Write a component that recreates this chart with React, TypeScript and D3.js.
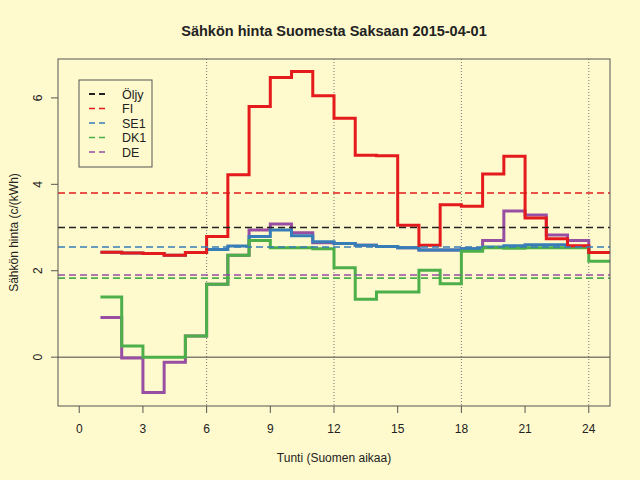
import * as d3 from "d3";

const WIDTH = 640;
const HEIGHT = 480;

const BG = "#fffacd";

const PLOT = { left: 58, right: 610, top: 59, bottom: 406 };

const TITLE = "Sähkön hinta Suomesta Saksaan 2015-04-01";
const X_LABEL = "Tunti (Suomen aikaa)";
const Y_LABEL = "Sähkön hinta (c/(kWh)";

// hours 1..24, step after each hour
const hours = d3.range(1, 25);
const xTicks = [0, 3, 6, 9, 12, 15, 18, 21, 24];
const yTicks = [0, 2, 4, 6];
const vLines = [6, 12, 18, 24];

const fi = [2.43, 2.41, 2.4, 2.36, 2.42, 2.79, 4.22, 5.8, 6.47, 6.61, 6.05, 5.53, 4.67, 4.66, 3.05, 2.59, 3.53, 3.49, 4.24, 4.65, 3.22, 2.74, 2.58, 2.42];
const se1 = [2.43, 2.41, 2.4, 2.36, 2.42, 2.49, 2.57, 2.79, 2.94, 2.81, 2.67, 2.63, 2.59, 2.56, 2.53, 2.48, 2.48, 2.51, 2.55, 2.58, 2.6, 2.6, 2.56, 2.42];
const dk1 = [1.39, 0.26, 0.0, 0.0, 0.49, 1.69, 2.36, 2.7, 2.53, 2.53, 2.51, 2.07, 1.34, 1.51, 1.51, 2.01, 1.7, 2.45, 2.53, 2.52, 2.53, 2.53, 2.53, 2.22];
const de = [0.92, -0.02, -0.82, -0.12, 0.49, 1.69, 2.36, 2.94, 3.08, 2.88, 2.65, 2.63, 2.59, 2.56, 2.53, 2.48, 2.48, 2.51, 2.7, 3.38, 3.29, 2.83, 2.7, 2.42];

// reference levels (dashed)
const legendNames = ["Öljy", "FI", "SE1", "DK1", "DE"];
const legendColors = ["#222222", "#e41a1c", "#377eb8", "#4daf4a", "#984ea3"];
const levels = [3.0, 3.8, 2.55, 1.83, 1.9];

// draw order: DE first, FI last
const series = [
  { name: "DE", color: "#984ea3", data: de },
  { name: "SE1", color: "#377eb8", data: se1 },
  { name: "DK1", color: "#4daf4a", data: dk1 },
  { name: "FI", color: "#e41a1c", data: fi },
];

const FONT = "'Liberation Sans', Arial, sans-serif";
const TEXT = "#222";
const AXIS = "#555";

export default function App() {
  const x = d3.scaleLinear().domain([-1, 25]).range([PLOT.left, PLOT.right]);
  const y = d3.scaleLinear().domain([-1.13, 6.9]).range([PLOT.bottom, PLOT.top]);

  const line = d3
    .line<[number, number]>()
    .x((d) => x(d[0]))
    .y((d) => y(d[1]))
    .curve(d3.curveStepAfter);

  const stepPath = (data: number[]) => {
    const pts: [number, number][] = data.map((v, i) => [hours[i], v]);
    pts.push([hours[hours.length - 1] + 1, data[data.length - 1]]);
    return line(pts) ?? "";
  };

  const legend = { x: 79, y: 80, w: 73, h: 87, rowH: 14.5 };

  return (
    <svg
      width={WIDTH}
      height={HEIGHT}
      style={{ position: "absolute", left: 0, top: 0, background: BG }}
    >
      <rect x={0} y={0} width={WIDTH} height={HEIGHT} fill={BG} />

      <text
        x={(PLOT.left + PLOT.right) / 2}
        y={36}
        textAnchor="middle"
        fontFamily={FONT}
        fontWeight="bold"
        fontSize={14.5}
        fill={TEXT}
      >
        {TITLE}
      </text>

      {/* vertical dotted guides */}
      {vLines.map((h) => (
        <line
          key={h}
          x1={x(h)}
          x2={x(h)}
          y1={PLOT.top}
          y2={PLOT.bottom}
          stroke="#777"
          strokeWidth={1}
          strokeDasharray="1,2"
        />
      ))}

      {/* zero line */}
      <line x1={PLOT.left} x2={PLOT.right} y1={y(0)} y2={y(0)} stroke="#444" strokeWidth={1} />

      {/* step series */}
      {series.map((s) => (
        <path
          key={s.name}
          d={stepPath(s.data)}
          fill="none"
          stroke={s.color}
          strokeWidth={3}
          strokeLinejoin="miter"
        />
      ))}

      {/* dashed level lines */}
      {levels.map((v, i) => (
        <line
          key={legendNames[i]}
          x1={PLOT.left}
          x2={PLOT.right}
          y1={y(v)}
          y2={y(v)}
          stroke={legendColors[i]}
          strokeWidth={1.6}
          strokeDasharray="7,4"
        />
      ))}

      {/* axes */}
      <rect
        x={PLOT.left}
        y={PLOT.top}
        width={PLOT.right - PLOT.left}
        height={PLOT.bottom - PLOT.top}
        fill="none"
        stroke={AXIS}
        strokeWidth={1}
      />
      {xTicks.map((t) => (
        <g key={t}>
          <line x1={x(t)} x2={x(t)} y1={PLOT.bottom} y2={PLOT.bottom + 7} stroke={AXIS} />
          <text
            x={x(t)}
            y={433}
            textAnchor="middle"
            fontFamily={FONT}
            fontSize={12}
            fill={TEXT}
          >
            {t}
          </text>
        </g>
      ))}
      {yTicks.map((t) => (
        <g key={t}>
          <line x1={PLOT.left - 7} x2={PLOT.left} y1={y(t)} y2={y(t)} stroke={AXIS} />
          <text
            transform={`translate(${42},${y(t)}) rotate(-90)`}
            textAnchor="middle"
            fontFamily={FONT}
            fontSize={12}
            fill={TEXT}
          >
            {t}
          </text>
        </g>
      ))}

      <text
        x={(PLOT.left + PLOT.right) / 2}
        y={462}
        textAnchor="middle"
        fontFamily={FONT}
        fontSize={12}
        fill={TEXT}
      >
        {X_LABEL}
      </text>
      <text
        transform={`translate(${18},${(PLOT.top + PLOT.bottom) / 2}) rotate(-90)`}
        textAnchor="middle"
        fontFamily={FONT}
        fontSize={12}
        fill={TEXT}
      >
        {Y_LABEL}
      </text>

      {/* legend */}
      <g className="legend">
        <rect
          x={legend.x}
          y={legend.y}
          width={legend.w}
          height={legend.h}
          fill={BG}
          stroke={AXIS}
          strokeWidth={1}
        />
        {legendNames.map((name, i) => {
          const ry = legend.y + 14 + i * legend.rowH;
          return (
            <g key={name}>
              <line
                x1={legend.x + 10}
                x2={legend.x + 30}
                y1={ry}
                y2={ry}
                stroke={legendColors[i]}
                strokeWidth={i === 0 ? 2 : 1.5}
                strokeDasharray="6,4"
              />
              <text
                x={legend.x + 43}
                y={ry + 4.5}
                fontFamily={FONT}
                fontSize={12.5}
                fill={TEXT}
              >
                {name}
              </text>
            </g>
          );
        })}
      </g>
    </svg>
  );
}
